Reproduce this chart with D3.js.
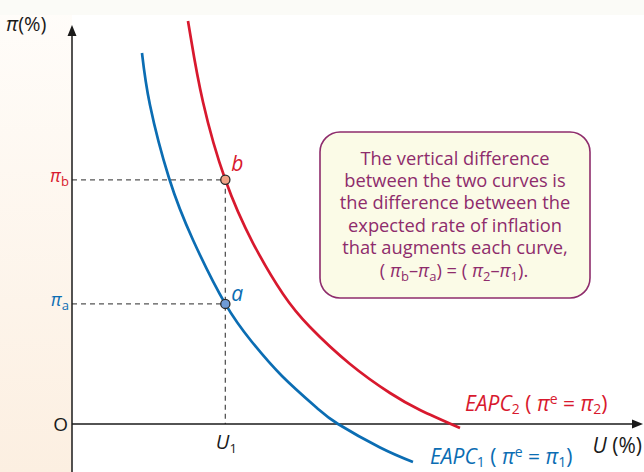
<!DOCTYPE html>
<html><head><meta charset="utf-8">
<script src="https://cdn.jsdelivr.net/npm/d3@7"></script>
<style>body{margin:0;background:#fff}svg{display:block}</style>
</head><body><svg id="c" width="644" height="472"></svg>
<script>
// ---- data ----
const blueU  = [12.28, 13.68, 17.02, 21.23, 26.9, 31.58, 36.84, 42.98, 46.67, 54.04, 59.82];
const bluePi = [92.98, 79.95, 61.65, 46.12, 30.1, 20.55, 12.03, 4.01, 0.0, -5.89, -9.52];
const redU   = [20.35, 20.88, 22.98, 26.9, 31.75, 37.02, 41.75, 48.77, 55.79, 61.05, 68.07];
const redPi  = [101.0, 96.49, 80.70, 61.2, 45.36, 32.58, 24.31, 15.04, 7.77, 3.51, -1.0];
const pointNames = ["a", "b"];
const pointU  = [26.9, 26.9];
const pointPi = [30.1, 61.2];
const boxLines = ["The vertical difference", "between the two curves is", "the difference between the",
                  "expected rate of inflation", "that augments each curve,"];

const W = 644, H = 472;
const svg = d3.select("#c");
const x = d3.scaleLinear().domain([0, 100]).range([72, 642]);
const y = d3.scaleLinear().domain([0, 100]).range([424, 25]);

const RED = "#d8192e", BLUE = "#0b6db3", PURPLE = "#8e2c6c", INK = "#1a1a1a";
const FONT = "'Open Sans', 'Noto Sans', sans-serif";

// background
const defs = svg.append("defs");
const g1 = defs.append("linearGradient").attr("id","peach").attr("x1",0).attr("x2",0).attr("y1",0).attr("y2",1);
g1.append("stop").attr("offset","0%").attr("stop-color","#fffdfa");
g1.append("stop").attr("offset","100%").attr("stop-color","#fcefe1");
svg.append("rect").attr("x",0).attr("y",0).attr("width",W).attr("height",H).attr("fill","#fff");
svg.append("rect").attr("x",0).attr("y",0).attr("width",x(0)).attr("height",H).attr("fill","url(#peach)");
svg.append("rect").attr("x",0).attr("y",0).attr("width",W).attr("height",15).attr("fill","#fbfbf7");

// dashed guides
const dash = svg.append("g").attr("stroke","#555").attr("stroke-width",1.3).attr("stroke-dasharray","5,4").attr("fill","none");
pointU.forEach((u,i)=>{
  dash.append("line").attr("x1",x(0)).attr("x2",x(u)).attr("y1",y(pointPi[i])).attr("y2",y(pointPi[i]));
});
dash.append("line").attr("x1",x(pointU[1])).attr("x2",x(pointU[1])).attr("y1",y(pointPi[1])).attr("y2",y(0));

// axes
const ax = svg.append("g").attr("stroke",INK).attr("stroke-width",1.5);
ax.append("line").attr("x1",x(0)).attr("x2",x(0)).attr("y1",H).attr("y2",y(100)+8);
ax.append("line").attr("x1",x(0)).attr("x2",x(100)-6).attr("y1",y(0)).attr("y2",y(0));
svg.append("path").attr("fill",INK)
  .attr("d",`M${x(0)},${y(100)} L${x(0)-4.5},${y(100)+11} L${x(0)+4.5},${y(100)+11}Z`);
svg.append("path").attr("fill",INK)
  .attr("d",`M${x(100)+1},${y(0)} L${x(100)-10},${y(0)-4.5} L${x(100)-10},${y(0)+4.5}Z`);

// curves
const line = d3.line().x(d=>x(d[0])).y(d=>y(d[1])).curve(d3.curveNatural);
svg.append("path").datum(blueU.map((u,i)=>[u,bluePi[i]]))
  .attr("d",line).attr("fill","none").attr("stroke",BLUE).attr("stroke-width",2.7);
svg.append("path").datum(redU.map((u,i)=>[u,redPi[i]]))
  .attr("d",line).attr("fill","none").attr("stroke",RED).attr("stroke-width",2.7);

// points
const pFill = {a:"#6f9bd6", b:"#f0a285"};
const pCol = {a:BLUE, b:RED};
pointNames.forEach((n,i)=>{
  svg.append("circle").attr("cx",x(pointU[i])).attr("cy",y(pointPi[i])).attr("r",4.6)
    .attr("fill",pFill[n]).attr("stroke","#2a2a2a").attr("stroke-width",1.3);
  svg.append("text").attr("x",x(pointU[i])+6).attr("y",y(pointPi[i])-(n==="b"?9:3))
    .attr("font-family",FONT).attr("font-style","italic").attr("font-size",21)
    .attr("fill",pCol[n]).text(n);
});

// axis labels
function piLabel(sub, color, xx, yy){
  const t = svg.append("text").attr("x",xx).attr("y",yy).attr("text-anchor","end")
    .attr("font-family",FONT).attr("font-size",18).attr("fill",color);
  t.append("tspan").attr("font-style","italic").text("π");
  t.append("tspan").attr("font-size",13).attr("dy",4).text(sub);
}
piLabel("b",RED,69,y(pointPi[1])+2);
piLabel("a",BLUE,69,y(pointPi[0])+2);
svg.append("text").attr("x",68).attr("y",y(0)+7).attr("text-anchor","end")
  .attr("font-family",FONT).attr("font-size",19).attr("fill",INK).text("O");
const t1 = svg.append("text").attr("x",x(pointU[0])+1).attr("y",y(0)+25).attr("text-anchor","middle")
  .attr("font-family",FONT).attr("font-size",20).attr("fill",INK);
t1.append("tspan").attr("font-style","italic").text("U");
t1.append("tspan").attr("font-size",13).attr("dy",4).text("1");
const ty = svg.append("text").attr("x",6).attr("y",31).attr("font-family",FONT).attr("font-size",20).attr("fill",INK);
ty.append("tspan").attr("font-style","italic").text("π");
ty.append("tspan").text("(%)");
const tx = svg.append("text").attr("x",642).attr("y",453).attr("text-anchor","end")
  .attr("font-family",FONT).attr("font-size",21).attr("fill",INK);
tx.append("tspan").attr("font-style","italic").text("U");
tx.append("tspan").text(" (%)");

// curve labels
function eapc(n, color, xx, yy){
  const t = svg.append("text").attr("x",xx).attr("y",yy)
    .attr("font-family",FONT).attr("font-size",21).attr("fill",color);
  t.append("tspan").attr("font-style","italic").text("EAPC");
  t.append("tspan").attr("font-size",14).attr("dy",3).text(n);
  t.append("tspan").attr("dy",-3).text(" ( ");
  t.append("tspan").attr("font-style","italic").text("π");
  t.append("tspan").attr("font-size",14).attr("dy",-7).text("e");
  t.append("tspan").attr("dy",7).text(" =  ");
  t.append("tspan").attr("font-style","italic").text("π");
  t.append("tspan").attr("font-size",14).attr("dy",3).text(n);
  t.append("tspan").attr("dy",-3).text(")");
}
eapc("2", RED, 465, 411);
eapc("1", BLUE, 430, 464);

// annotation box
svg.append("rect").attr("x",320).attr("y",132).attr("width",270).attr("height",166).attr("rx",20)
  .attr("fill","#fbfbe7").attr("stroke",PURPLE).attr("stroke-width",1.6);
const bt = svg.append("g").attr("font-family",FONT).attr("font-size",18.3).attr("fill",PURPLE).attr("text-anchor","middle");
boxLines.forEach((s,i)=>{
  bt.append("text").attr("x",455).attr("y",164.5+i*22.4).text(s);
});
const last = bt.append("text").attr("x",454).attr("y",164.5+5*22.4);
last.append("tspan").text("( ");
last.append("tspan").attr("font-style","italic").text("π");
last.append("tspan").attr("font-size",13).attr("dy",4).text("b");
last.append("tspan").attr("dy",-4).text("–");
last.append("tspan").attr("font-style","italic").text("π");
last.append("tspan").attr("font-size",13).attr("dy",4).text("a");
last.append("tspan").attr("dy",-4).text(") = ( ");
last.append("tspan").attr("font-style","italic").text("π");
last.append("tspan").attr("font-size",13).attr("dy",4).text("2");
last.append("tspan").attr("dy",-4).text("–");
last.append("tspan").attr("font-style","italic").text("π");
last.append("tspan").attr("font-size",13).attr("dy",4).text("1");
last.append("tspan").attr("dy",-4).text(").");
</script></body></html>
